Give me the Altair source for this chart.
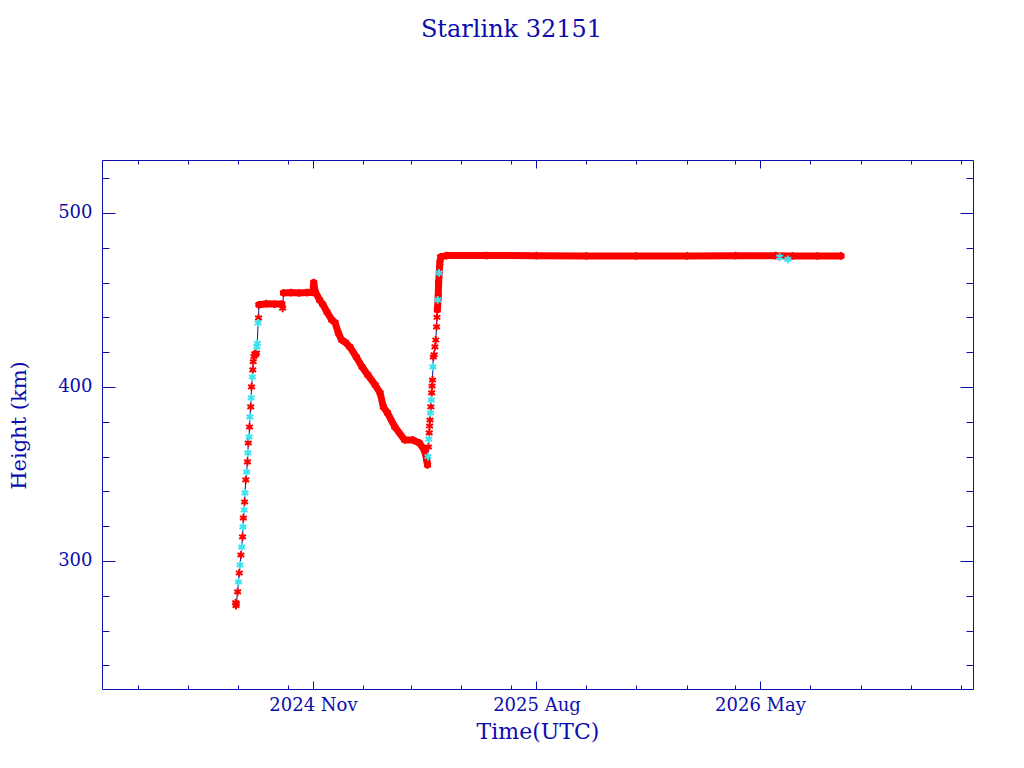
import altair as alt
import pandas as pd

TITLE = "Starlink 32151"
X_TITLE = "Time(UTC)"
Y_TITLE = "Height (km)"

BLUE = "#0c0cad"
RED = "#ff0000"
CYAN = "#3fe3ef"
FONT = "DejaVu Serif"

# axis ranges and ticks
X_START = (2024, 2, 17, 8)
X_END = (2027, 1, 16, 5)
Y_DOMAIN = [226.4, 530.4]
X_MAJOR = [(2024, 11), (2025, 8), (2026, 5)]
X_MINOR = [(2024, 4), (2024, 6), (2024, 8), (2024, 10), (2025, 1), (2025, 3),
           (2025, 5), (2025, 7), (2025, 10), (2025, 12), (2026, 2), (2026, 4),
           (2026, 7), (2026, 9), (2026, 11), (2027, 1)]
Y_MAJOR = [300, 400, 500]
Y_MINOR = [240, 260, 280, 320, 340, 360, 380, 420, 440, 460, 480, 520]

# observations: (time UTC, height km, marker colour)
ascent1 = [
    ("2024-07-29T12:00Z", 276.0, "red"),
    ("2024-07-30T00:00Z", 274.3, "red"),
    ("2024-07-30T12:00Z", 275.5, "red"),
    ("2024-08-01T00:00Z", 282.2, "red"),
    ("2024-08-02T00:00Z", 287.9, "cyan"),
    ("2024-08-03T00:00Z", 293.1, "red"),
    ("2024-08-04T00:00Z", 297.7, "cyan"),
    ("2024-08-05T00:00Z", 303.4, "red"),
    ("2024-08-06T00:00Z", 308.0, "cyan"),
    ("2024-08-07T00:00Z", 313.8, "red"),
    ("2024-08-07T12:00Z", 319.5, "cyan"),
    ("2024-08-08T00:00Z", 324.7, "red"),
    ("2024-08-09T00:00Z", 329.3, "cyan"),
    ("2024-08-09T12:00Z", 333.9, "red"),
    ("2024-08-10T00:00Z", 339.1, "cyan"),
    ("2024-08-11T00:00Z", 346.6, "red"),
    ("2024-08-12T00:00Z", 351.1, "cyan"),
    ("2024-08-13T00:00Z", 356.9, "red"),
    ("2024-08-13T12:00Z", 362.1, "cyan"),
    ("2024-08-14T00:00Z", 367.8, "red"),
    ("2024-08-15T00:00Z", 371.3, "cyan"),
    ("2024-08-15T12:00Z", 377.0, "red"),
    ("2024-08-16T00:00Z", 382.8, "cyan"),
    ("2024-08-17T00:00Z", 388.5, "red"),
    ("2024-08-17T12:00Z", 393.7, "cyan"),
    ("2024-08-18T00:00Z", 400.0, "red"),
    ("2024-08-19T00:00Z", 405.7, "cyan"),
    ("2024-08-19T12:00Z", 409.8, "red"),
    ("2024-08-20T00:00Z", 414.5, "red"),
    ("2024-08-21T00:00Z", 417.5, "red"),
    ("2024-08-22T00:00Z", 419.0, "red"),
    ("2024-08-23T00:00Z", 418.5, "red"),
    ("2024-08-24T00:00Z", 419.5, "red"),
    ("2024-08-24T12:00Z", 423.0, "cyan"),
    ("2024-08-25T00:00Z", 425.0, "cyan"),
    ("2024-08-26T00:00Z", 436.8, "cyan"),
    ("2024-08-26T12:00Z", 439.7, "red"),
]
plateau1 = [
    ("2024-08-27T00:00Z", 447.2, "red"),
    ("2024-09-05T00:00Z", 447.8, "red"),
    ("2024-09-15T00:00Z", 447.6, "red"),
    ("2024-09-24T00:00Z", 447.6, "red"),
]
dip1 = [
    ("2024-09-25T00:00Z", 445.2, "red"),
]
plateau2_decline = [
    ("2024-09-26T00:00Z", 454.0, "red"),
    ("2024-10-05T00:00Z", 454.2, "red"),
    ("2024-10-15T00:00Z", 454.0, "red"),
    ("2024-10-25T00:00Z", 454.2, "red"),
    ("2024-11-01T00:00Z", 454.3, "red"),
    ("2024-11-02T00:00Z", 460.0, "red"),
    ("2024-11-03T12:00Z", 455.0, "red"),
    ("2024-11-09T00:00Z", 450.0, "red"),
    ("2024-11-13T00:00Z", 447.5, "red"),
    ("2024-11-18T00:00Z", 443.1, "red"),
    ("2024-11-24T00:00Z", 438.5, "red"),
    ("2024-11-28T00:00Z", 437.0, "red"),
    ("2024-12-02T00:00Z", 431.0, "red"),
    ("2024-12-06T00:00Z", 427.0, "red"),
    ("2024-12-11T00:00Z", 425.5, "red"),
    ("2024-12-16T00:00Z", 423.0, "red"),
    ("2024-12-24T00:00Z", 417.2, "red"),
    ("2024-12-31T00:00Z", 411.5, "red"),
    ("2025-01-07T00:00Z", 406.9, "red"),
    ("2025-01-16T00:00Z", 401.1, "red"),
    ("2025-01-22T00:00Z", 396.6, "red"),
    ("2025-01-26T00:00Z", 388.5, "red"),
    ("2025-01-31T00:00Z", 385.1, "red"),
    ("2025-02-09T00:00Z", 377.0, "red"),
    ("2025-02-21T00:00Z", 369.5, "red"),
    ("2025-03-03T00:00Z", 369.5, "red"),
    ("2025-03-11T00:00Z", 367.8, "red"),
    ("2025-03-17T00:00Z", 363.8, "red"),
    ("2025-03-20T00:00Z", 358.0, "red"),
    ("2025-03-21T00:00Z", 355.2, "red"),
]
ascent2 = [
    ("2025-03-21T12:00Z", 360.0, "cyan"),
    ("2025-03-22T00:00Z", 365.5, "red"),
    ("2025-03-22T12:00Z", 370.0, "cyan"),
    ("2025-03-23T00:00Z", 373.6, "red"),
    ("2025-03-23T12:00Z", 377.5, "red"),
    ("2025-03-24T00:00Z", 381.0, "red"),
    ("2025-03-24T12:00Z", 385.0, "cyan"),
    ("2025-03-25T00:00Z", 388.5, "red"),
    ("2025-03-25T12:00Z", 392.5, "cyan"),
    ("2025-03-26T00:00Z", 396.6, "red"),
    ("2025-03-26T12:00Z", 400.5, "red"),
    ("2025-03-27T00:00Z", 404.0, "red"),
    ("2025-03-27T12:00Z", 411.5, "cyan"),
    ("2025-03-28T00:00Z", 417.2, "red"),
    ("2025-03-29T00:00Z", 418.5, "red"),
    ("2025-03-30T00:00Z", 423.0, "red"),
    ("2025-03-31T00:00Z", 427.0, "red"),
    ("2025-04-01T00:00Z", 434.5, "red"),
    ("2025-04-01T12:00Z", 440.0, "red"),
]
final_orbit = [
    ("2025-04-02T00:00Z", 444.3, "red"),
    ("2025-04-02T12:00Z", 450.0, "cyan"),
    ("2025-04-03T00:00Z", 451.7, "red"),
    ("2025-04-03T12:00Z", 459.8, "red"),
    ("2025-04-04T00:00Z", 465.5, "cyan"),
    ("2025-04-05T00:00Z", 471.3, "red"),
    ("2025-04-06T00:00Z", 474.7, "red"),
    ("2025-04-13T00:00Z", 475.5, "red"),
    ("2025-06-01T00:00Z", 475.5, "red"),
    ("2025-08-01T00:00Z", 475.4, "red"),
    ("2025-10-01T00:00Z", 475.3, "red"),
    ("2025-12-01T00:00Z", 475.3, "red"),
    ("2026-02-01T00:00Z", 475.3, "red"),
    ("2026-04-01T00:00Z", 475.4, "red"),
    ("2026-05-20T00:00Z", 475.4, "red"),
    ("2026-05-25T00:00Z", 474.6, "cyan"),
    ("2026-06-04T00:00Z", 473.3, "cyan"),
    ("2026-06-10T00:00Z", 475.3, "red"),
    ("2026-07-10T00:00Z", 475.3, "red"),
    ("2026-08-08T00:00Z", 475.3, "red"),
]

# (phase, dense-band segment id; 0 = separate markers only)
phases = [(ascent1, 0), (plateau1, 1), (dip1, 0), (plateau2_decline, 2),
          (ascent2, 0), (final_orbit, 3)]

rows = []
for obs, seg in phases:
    for t, km, col in obs:
        rows.append({"t": t, "km": km, "col": col, "seg": seg})
df = pd.DataFrame(rows)


def dt(y, m, d=1, h=0):
    return alt.DateTime(year=y, month=m, date=d, hours=h, utc=True)


x_scale = alt.Scale(type="utc", domain=[dt(*X_START), dt(*X_END)], nice=False)
y_scale = alt.Scale(domain=Y_DOMAIN, nice=False, zero=False)

common = dict(domain=False, grid=False, tickColor=BLUE, tickWidth=1,
              labelColor=BLUE, titleColor=BLUE, labelFont=FONT, titleFont=FONT)


def x_axis(orient, ticks, size, labels=False, title=None):
    kw = dict(common)
    if labels:
        kw.update(labelFontSize=18, labelPadding=7, labelFlush=False,
                  labelOverlap=False,
                  labelExpr="utcFormat(datum.value, '%Y %b')",
                  title=title, titleFontSize=22, titleFontWeight="normal",
                  titleBaseline="alphabetic", titleY=57)
    else:
        kw.update(labels=False, title=None)
    return alt.Axis(orient=orient, values=[dt(y, m) for y, m in ticks],
                    tickSize=size, offset=-size, **kw)


def y_axis(orient, ticks, size, labels=False, title=None):
    kw = dict(common)
    if labels:
        kw.update(labelFontSize=18, labelPadding=10, labelOverlap=False,
                  title=title, titleFontSize=21, titleFontWeight="normal",
                  titleAngle=270, titleBaseline="middle", titleX=-96, titleY=265)
    else:
        kw.update(labels=False, title=None)
    return alt.Axis(orient=orient, values=ticks, tickSize=size, offset=-size, **kw)


def enc(xa, ya):
    return dict(x=alt.X("t:T", scale=x_scale, axis=xa),
                y=alt.Y("km:Q", scale=y_scale, axis=ya))


ASTER = "M0,-1L0,1M-0.87,-0.5L0.87,0.5M-0.87,0.5L0.87,-0.5"

base = alt.Chart(df)

track = base.mark_line(color=BLUE, strokeWidth=1).encode(
    **enc(x_axis("bottom", X_MAJOR, 8, True, X_TITLE),
          y_axis("left", Y_MAJOR, 13, True, Y_TITLE)))

band = base.transform_filter("datum.seg > 0 && datum.col == 'red'").mark_line(
    color=RED, strokeWidth=7, strokeCap="round", strokeJoin="round").encode(
    detail="seg:N",
    **enc(x_axis("bottom", X_MINOR, 4), y_axis("left", Y_MINOR, 7)))

reds = base.transform_filter("datum.col == 'red'").mark_point(
    shape=ASTER, filled=False, color=RED, strokeWidth=2, size=60, opacity=1).encode(
    **enc(x_axis("top", X_MAJOR, 8), y_axis("right", Y_MAJOR, 13)))

cyans = base.transform_filter("datum.col == 'cyan'").mark_point(
    shape=ASTER, filled=False, color=CYAN, strokeWidth=2, size=60, opacity=1).encode(
    **enc(x_axis("top", X_MINOR, 4), y_axis("right", Y_MINOR, 7)))

chart = alt.layer(track, band, reds, cyans).resolve_axis(
    x="independent", y="independent"
).properties(
    width=871, height=529,
    autosize=alt.AutoSizeParams(type="none"),
    padding={"left": 94, "top": 152, "right": 30, "bottom": 60},
    title=alt.TitleParams(text=TITLE, font=FONT, fontSize=24, fontWeight="normal",
                          color=BLUE, anchor="middle", frame="group",
                          offset=118, dx=-26),
).configure_view(stroke=BLUE, strokeWidth=1)

chart.save("out.html", embed_options={"renderer": "svg", "actions": False})
